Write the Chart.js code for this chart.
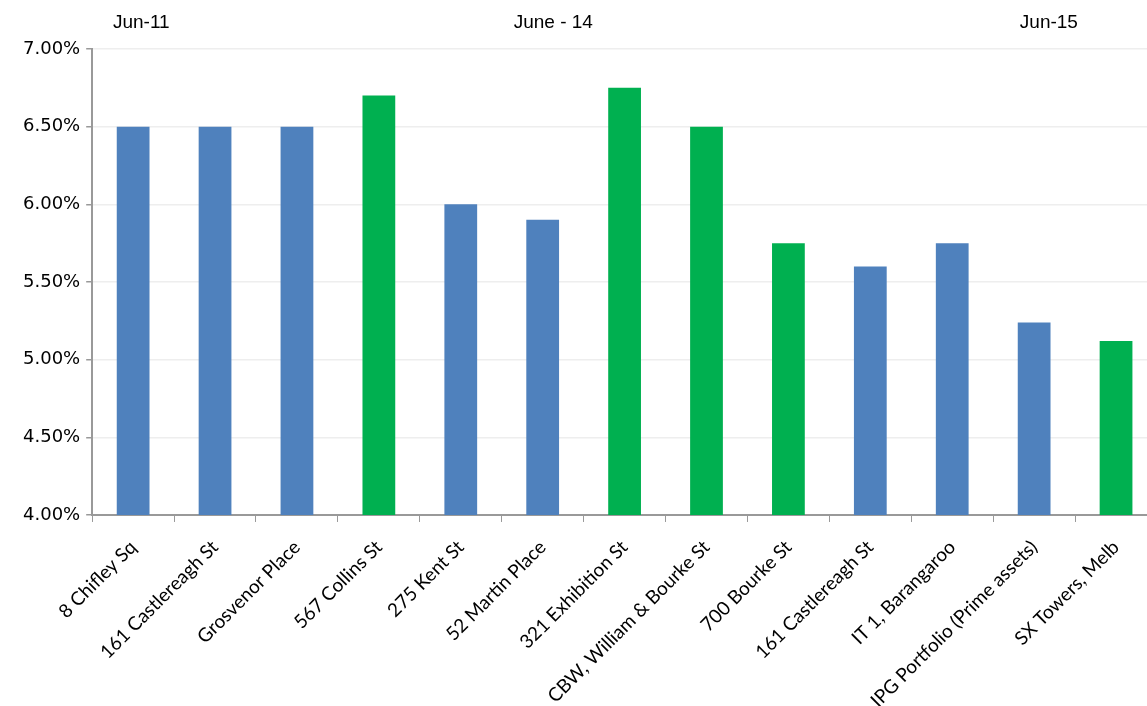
<!DOCTYPE html>
<html>
<head>
<meta charset="utf-8">
<script src="https://cdn.jsdelivr.net/npm/chart.js@4"></script>
<style>
  body { margin: 0; background: #fff; overflow: hidden; }
  #wrap { position: absolute; left: 0; top: 0; width: 1157px; height: 726px; }
</style>
</head>
<body>
<div id="wrap"><canvas id="yieldChart"></canvas></div>
<script>
const buildings = [
  "8 Chifley Sq",
  "161 Castlereagh St",
  "Grosvenor Place",
  "567 Collins St",
  "275 Kent St",
  "52 Martin Place",
  "321 Exhibition St",
  "CBW, William & Bourke St",
  "700 Bourke St",
  "161 Castlereagh St",
  "IT 1, Barangaroo",
  "IPG Portfolio (Prime assets)",
  "SX Towers, Melb"
];

const yields = [6.50, 6.50, 6.50, 6.70, 6.00, 5.90, 6.75, 6.50, 5.75, 5.60, 5.75, 5.24, 5.12];

const cities = [
  "Sydney", "Sydney", "Sydney", "Melbourne", "Sydney", "Sydney",
  "Melbourne", "Melbourne", "Melbourne", "Sydney", "Sydney", "Sydney", "Melbourne"
];

const yTicks = [4.0, 4.5, 5.0, 5.5, 6.0, 6.5, 7.0];

// period markers above the plot, placed at (fractional) category index
const periodLabels = ["Jun-11", "June - 14", "Jun-15"];
const periodAt = [0.1, 5.13, 11.18];

const cityColor = { Sydney: "#4F81BD", Melbourne: "#00B050" };

const periodPlugin = {
  id: "periods",
  afterDraw(chart) {
    const ctx = chart.ctx;
    const x = chart.scales.x;
    ctx.save();
    ctx.font = "19px 'Liberation Sans', Arial, sans-serif";
    ctx.fillStyle = "#000";
    ctx.textAlign = "center";
    ctx.textBaseline = "middle";
    periodLabels.forEach((txt, i) => {
      ctx.fillText(txt, x.getPixelForValue(periodAt[i]), 23);
    });
    ctx.restore();
  }
};

new Chart(document.getElementById("yieldChart"), {
  type: "bar",
  data: {
    labels: buildings,
    datasets: [{
      data: yields,
      backgroundColor: cities.map(c => cityColor[c]),
      barPercentage: 0.4,
      categoryPercentage: 1
    }]
  },
  options: {
    responsive: true,
    maintainAspectRatio: false,
    animation: false,
    layout: { padding: { top: 49, left: 17, right: 0, bottom: 0 } },
    plugins: {
      legend: { display: false },
      tooltip: { enabled: false }
    },
    scales: {
      x: {
        grid: {
          drawOnChartArea: false,
          drawTicks: true,
          tickLength: 7,
          color: "#999"
        },
        border: { color: "#999", width: 2 },
        ticks: {
          color: "#000",
          minRotation: 45,
          maxRotation: 45,
          autoSkip: false,
          padding: 14,
          font: { family: "Lato, sans-serif", size: 19 }
        }
      },
      y: {
        min: yTicks[0],
        max: yTicks[yTicks.length - 1],
        afterBuildTicks(scale) {
          scale.ticks = yTicks.map(v => ({ value: v }));
        },
        grid: {
          color: "#eeeeee",
          lineWidth: 1.5,
          tickLength: 6,
          tickColor: "#999"
        },
        border: { color: "#999", width: 2 },
        ticks: {
          color: "#000",
          padding: 6,
          font: { family: "'DejaVu Sans', sans-serif", size: 18 },
          callback: v => v.toFixed(2) + "%"
        }
      }
    }
  },
  plugins: [periodPlugin]
});
</script>
</body>
</html>
